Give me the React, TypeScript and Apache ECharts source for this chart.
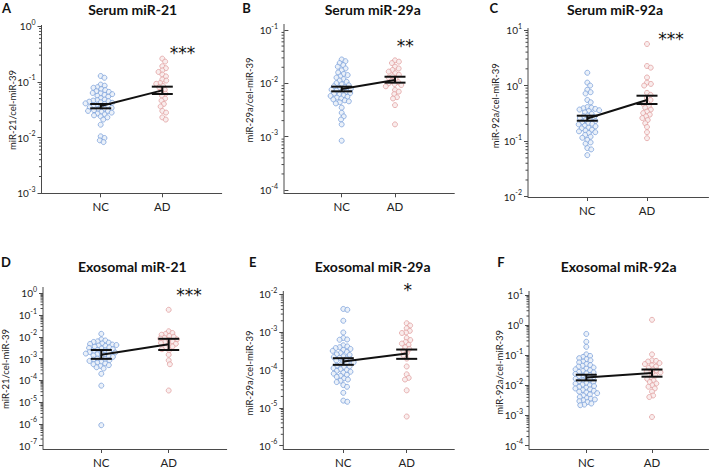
import React, { useEffect, useRef } from 'react';
import * as echarts from 'echarts';

// ---------------- data ----------------
const groups = ['NC', 'AD'];
const panelTitles = ['Serum miR-21', 'Serum miR-29a', 'Serum miR-92a', 'Exosomal miR-21', 'Exosomal miR-29a', 'Exosomal miR-92a'];
const panelLetters = ['A', 'B', 'C', 'D', 'E', 'F'];
const yAxisNames = ['miR-21/cel-miR-39', 'miR-29a/cel-miR-39', 'miR-92a/cel-miR-39', 'miR-21/cel-miR-39', 'miR-29a/cel-miR-39', 'miR-92a/cel-miR-39'];
const significance = ['***', '**', '***', '***', '*', ''];
const yMinExp = [-3, -4, -2, -7, -6, -4];
const yMaxExp = [0, -1, 1, 0, -2, 1];

const serumMiR21NC = [0.127, 0.118, 0.089, 0.085, 0.080, 0.078, 0.074, 0.071, 0.068, 0.066, 0.063, 0.062, 0.060, 0.058, 0.056, 0.054, 0.051, 0.048, 0.047, 0.046, 0.045, 0.044, 0.043, 0.042, 0.041, 0.040, 0.039, 0.038, 0.037, 0.036, 0.035, 0.034, 0.033, 0.032, 0.031, 0.030, 0.030, 0.029, 0.028, 0.027, 0.026, 0.025, 0.024, 0.023, 0.021, 0.017, 0.0105, 0.0098, 0.0089, 0.0083];
const serumMiR21AD = [0.26, 0.23, 0.19, 0.175, 0.16, 0.15, 0.135, 0.125, 0.11, 0.105, 0.095, 0.092, 0.084, 0.08, 0.072, 0.067, 0.061, 0.056, 0.05, 0.046, 0.04, 0.036, 0.03, 0.028, 0.023, 0.021];
const serumMiR21NCStats = [0.0334, 0.0368, 0.0399];
const serumMiR21ADStats = [0.0604, 0.070, 0.0817];

const serumMiR29aNC = [0.028, 0.026, 0.024, 0.022, 0.0205, 0.019, 0.0175, 0.016, 0.015, 0.0143, 0.0135, 0.0128, 0.012, 0.0113, 0.0107, 0.0101, 0.0096, 0.0092, 0.0088, 0.0085, 0.0082, 0.0079, 0.0076, 0.0073, 0.0071, 0.0069, 0.0066, 0.0064, 0.0062, 0.006, 0.0058, 0.0056, 0.0054, 0.0052, 0.005, 0.0048, 0.0046, 0.0044, 0.0042, 0.0035, 0.0028, 0.0024, 0.0021, 0.0017, 0.00084];
const serumMiR29aAD = [0.027, 0.0255, 0.024, 0.0205, 0.019, 0.0178, 0.0166, 0.0155, 0.0145, 0.0135, 0.0128, 0.012, 0.0112, 0.0105, 0.01, 0.0097, 0.0093, 0.0088, 0.0075, 0.007, 0.0063, 0.0055, 0.0052, 0.0039, 0.0017];
const serumMiR29aNCStats = [0.00708, 0.00782, 0.00866];
const serumMiR29aADStats = [0.0103, 0.0115, 0.0133];

const serumMiR92aNC = [1.7, 1.13, 1.0, 0.84, 0.76, 0.72, 0.55, 0.5, 0.41, 0.4, 0.39, 0.38, 0.37, 0.36, 0.35, 0.33, 0.31, 0.29, 0.28, 0.27, 0.26, 0.25, 0.24, 0.23, 0.22, 0.21, 0.205, 0.2, 0.19, 0.185, 0.175, 0.17, 0.16, 0.155, 0.15, 0.145, 0.14, 0.13, 0.12, 0.115, 0.105, 0.095, 0.09, 0.075, 0.071, 0.056];
const serumMiR92aAD = [5.6, 2.25, 2.1, 1.4, 1.13, 1.07, 1.0, 0.74, 0.68, 0.6, 0.55, 0.5, 0.47, 0.43, 0.4, 0.37, 0.34, 0.32, 0.3, 0.28, 0.26, 0.24, 0.21, 0.18, 0.145, 0.113];
const serumMiR92aNCStats = [0.233, 0.256, 0.287];
const serumMiR92aADStats = [0.466, 0.55, 0.657];

const exoMiR21NC = [0.0137, 0.0076, 0.0068, 0.0062, 0.0058, 0.0054, 0.005, 0.0047, 0.0044, 0.0042, 0.004, 0.0038, 0.0035, 0.0033, 0.0031, 0.0029, 0.0027, 0.0025, 0.0024, 0.0022, 0.0021, 0.002, 0.0019, 0.0018, 0.0017, 0.0016, 0.0015, 0.0014, 0.0013, 0.0012, 0.0011, 0.001, 0.00095, 0.0009, 0.00085, 0.00078, 0.0007, 0.00065, 0.0006, 0.00055, 0.0005, 0.00046, 0.0004, 0.00035, 0.0002, 0.000057, 0.00000087];
const exoMiR21AD = [0.175, 0.018, 0.015, 0.0135, 0.0125, 0.011, 0.01, 0.009, 0.0083, 0.0076, 0.007, 0.0063, 0.0058, 0.0053, 0.0048, 0.0042, 0.0036, 0.0031, 0.0027, 0.0024, 0.0015, 0.00083, 0.00055, 0.000034];
const exoMiR21NCStats = [0.00097, 0.0015, 0.00248];
const exoMiR21ADStats = [0.00248, 0.0045, 0.0081];

const exoMiR29aNC = [0.0041, 0.0039, 0.002, 0.00098, 0.0007, 0.00064, 0.00063, 0.00045, 0.00042, 0.0004, 0.00038, 0.00036, 0.00034, 0.00032, 0.0003, 0.00028, 0.00026, 0.00025, 0.00023, 0.00022, 0.00021, 0.0002, 0.00019, 0.00018, 0.00017, 0.00016, 0.00015, 0.00014, 0.00013, 0.000125, 0.00012, 0.000112, 0.000105, 0.0001, 0.000095, 0.00009, 0.000085, 0.00008, 0.000075, 0.00007, 0.000066, 0.00006, 0.000056, 0.000052, 0.000048, 0.00004, 0.000036, 0.000025, 0.0000155, 0.0000145];
const exoMiR29aAD = [0.00172, 0.0015, 0.00127, 0.00108, 0.00098, 0.00095, 0.0007, 0.00062, 0.00055, 0.0005, 0.00046, 0.0004, 0.00036, 0.00032, 0.00028, 0.00024, 0.0002, 0.000124, 0.000077, 0.000062, 0.000056, 0.000029, 0.0000059];
const exoMiR29aNCStats = [0.000137, 0.000168, 0.000205];
const exoMiR29aADStats = [0.000197, 0.000272, 0.000347];

const exoMiR92aNC = [0.51, 0.28, 0.19, 0.107, 0.095, 0.088, 0.08, 0.074, 0.068, 0.062, 0.058, 0.051, 0.047, 0.045, 0.042, 0.039, 0.036, 0.034, 0.032, 0.030, 0.028, 0.027, 0.025, 0.024, 0.022, 0.021, 0.02, 0.0186, 0.0175, 0.0165, 0.0155, 0.0146, 0.0135, 0.0129, 0.012, 0.0114, 0.0107, 0.0101, 0.0095, 0.0089, 0.0084, 0.0079, 0.0074, 0.007, 0.0066, 0.0062, 0.0058, 0.0055, 0.005, 0.0046, 0.0041, 0.0038, 0.0036, 0.0034, 0.0032, 0.003, 0.0028, 0.0025, 0.0023, 0.0022];
const exoMiR92aAD = [1.5, 0.107, 0.068, 0.065, 0.062, 0.055, 0.051, 0.046, 0.042, 0.038, 0.034, 0.031, 0.029, 0.027, 0.025, 0.0211, 0.0185, 0.0165, 0.0145, 0.0129, 0.0115, 0.0101, 0.009, 0.0079, 0.0062, 0.0046, 0.0041, 0.00089];
const exoMiR92aNCStats = [0.01466, 0.0182, 0.0225];
const exoMiR92aADStats = [0.0194, 0.0259, 0.0336];

const panelData = [
  { nc: serumMiR21NC, ad: serumMiR21AD, ncStats: serumMiR21NCStats, adStats: serumMiR21ADStats },
  { nc: serumMiR29aNC, ad: serumMiR29aAD, ncStats: serumMiR29aNCStats, adStats: serumMiR29aADStats },
  { nc: serumMiR92aNC, ad: serumMiR92aAD, ncStats: serumMiR92aNCStats, adStats: serumMiR92aADStats },
  { nc: exoMiR21NC, ad: exoMiR21AD, ncStats: exoMiR21NCStats, adStats: exoMiR21ADStats },
  { nc: exoMiR29aNC, ad: exoMiR29aAD, ncStats: exoMiR29aNCStats, adStats: exoMiR29aADStats },
  { nc: exoMiR92aNC, ad: exoMiR92aAD, ncStats: exoMiR92aNCStats, adStats: exoMiR92aADStats },
];

// ---------------- layout (pixels) ----------------
const GEO = [
  { axisX: 41.5, rightX: 221.7, topY: 26, botY: 193.3, xAxisY: 193.3, ncX: 100.7, adX: 162.3, lineTop: 25, title: [132.7, 9], letter: [6.5, 8], yName: [12, 110], stars: [182.5, 50] },
  { axisX: 284, rightX: 454.3, topY: 30, botY: 190, xAxisY: 193.3, ncX: 341.7, adX: 395, lineTop: 24, title: [372.7, 9], letter: [246.5, 8], yName: [249.3, 100], stars: [405.2, 43.3] },
  { axisX: 528, rightX: 708.5, topY: 30, botY: 196.7, xAxisY: 197, ncX: 587.3, adX: 647, lineTop: 28, title: [615, 9.5], letter: [493.7, 8], yName: [495.3, 105.7], stars: [671, 36.3] },
  { axisX: 43, rightX: 226.7, topY: 293.3, botY: 447.3, xAxisY: 450.7, ncX: 101.3, adX: 168.7, lineTop: 287, title: [132.3, 266.3], letter: [6, 262], yName: [5.5, 369], stars: [189, 292.3] },
  { axisX: 283.3, rightX: 454.3, topY: 294.3, botY: 446, xAxisY: 449.3, ncX: 343.3, adX: 406.7, lineTop: 291, title: [372.7, 266], letter: [252.7, 262], yName: [249.3, 373], stars: [407.7, 287.3] },
  { axisX: 529, rightX: 708.5, topY: 295, botY: 447.3, xAxisY: 450.7, ncX: 586.3, adX: 652, lineTop: 291, title: [618.7, 266], letter: [501, 262], yName: [499.3, 372.3], stars: [0, 0] },
];

const FONT = 'Lato, "Open Sans", "DejaVu Sans", sans-serif';
const AXIS_COLOR = '#4a4a4a';
const TEXT_COLOR = '#222222';
const NC_STYLE = { color: '#e6edf8', borderColor: '#7fa4dc', borderWidth: 1 };
const AD_STYLE = { color: '#f8e8e8', borderColor: '#e2a3a3', borderWidth: 1 };
const DOT = 5;
const PACK = 4.1; // centre spacing used by the swarm layout (dots overlap slightly)

// deterministic beeswarm layout (pixel space -> x data offset)
function swarm(values: number[], center: number, i: number): [number, number][] {
  const g = GEO[i];
  const pxPerDecade = (g.botY - g.topY) / (yMaxExp[i] - yMinExp[i]);
  const ppu = g.adX - g.ncX;
  const d = PACK;
  const placed: { x: number; y: number }[] = [];
  const order = values.map((_, k) => k).sort((a, b) => values[b] - values[a]);
  const out: [number, number][] = new Array(values.length);
  for (const k of order) {
    const y = -Math.log10(values[k]) * pxPerDecade;
    const intervals: [number, number][] = [];
    for (const p of placed) {
      const dy = Math.abs(p.y - y);
      if (dy < d) {
        const dx = Math.sqrt(d * d - dy * dy);
        intervals.push([p.x - dx, p.x + dx]);
      }
    }
    const candidates = [0];
    intervals.forEach(([a, b]) => candidates.push(a, b));
    candidates.sort((a, b) => Math.abs(a) - Math.abs(b) || b - a);
    let x = 0;
    for (const c of candidates) {
      if (intervals.every(([a, b]) => c <= a + 1e-6 || c >= b - 1e-6)) {
        x = c;
        break;
      }
    }
    placed.push({ x, y });
    out[k] = [center + x / ppu, values[k]];
  }
  return out;
}

function buildOption() {
  const grid: any[] = [];
  const xAxis: any[] = [];
  const yAxis: any[] = [];
  const series: any[] = [];
  const elements: any[] = [];

  GEO.forEach((g, i) => {
    const ppu = g.adX - g.ncX;
    const xMin = 1 - (g.ncX - g.axisX) / ppu;
    const xMax = xMin + (g.rightX - g.axisX) / ppu;
    grid.push({ left: g.axisX, top: g.topY, width: g.rightX - g.axisX, height: g.botY - g.topY, containLabel: false });
    xAxis.push({
      type: 'value', gridIndex: i, min: xMin, max: xMax, offset: g.xAxisY - g.botY,
      splitLine: { show: false },
      axisLine: { show: true, onZero: false, lineStyle: { color: AXIS_COLOR, width: 1 } },
      axisTick: { show: true, customValues: [1, 2], length: 4, lineStyle: { color: AXIS_COLOR } },
      axisLabel: {
        customValues: [1, 2], margin: 7, fontSize: 11.5, color: TEXT_COLOR, fontFamily: FONT,
        formatter: (v: number) => groups[Math.round(v) - 1] ?? '',
      },
    });
    yAxis.push({
      type: 'log', logBase: 10, gridIndex: i, min: Math.pow(10, yMinExp[i]), max: Math.pow(10, yMaxExp[i]),
      splitLine: { show: false },
      axisLine: { show: false },
      axisTick: { show: true, length: 4, lineStyle: { color: AXIS_COLOR } },
      axisLabel: {
        margin: 6,
        formatter: (v: number) => `{b|10}{s|${Math.round(Math.log10(v))}}`,
        rich: {
          b: { fontSize: 10, fontFamily: FONT, color: TEXT_COLOR, lineHeight: 16 },
          s: { fontSize: 7, fontFamily: FONT, color: TEXT_COLOR, verticalAlign: 'top' },
        },
      },
    });

    const pd = panelData[i];
    series.push({
      type: 'scatter', xAxisIndex: i, yAxisIndex: i, symbol: 'circle', symbolSize: DOT,
      itemStyle: NC_STYLE, data: swarm(pd.nc, 1, i), silent: true,
    });
    series.push({
      type: 'scatter', xAxisIndex: i, yAxisIndex: i, symbol: 'circle', symbolSize: DOT,
      itemStyle: AD_STYLE, data: swarm(pd.ad, 2, i), silent: true,
    });
    // error bars (SEM)
    series.push({
      type: 'custom', xAxisIndex: i, yAxisIndex: i, silent: true, clip: false, z: 3,
      encode: { x: 0, y: [1, 2, 3] },
      data: [[1, ...pd.ncStats], [2, ...pd.adStats]],
      renderItem: (_params: any, api: any) => {
        const x = api.value(0);
        const lo = api.coord([x, api.value(1)]);
        const hi = api.coord([x, api.value(3)]);
        const hw = 10.5;
        const st = { stroke: '#111111', lineWidth: 2 };
        return {
          type: 'group',
          children: [
            { type: 'line', shape: { x1: lo[0], y1: lo[1], x2: hi[0], y2: hi[1] }, style: st },
            { type: 'line', shape: { x1: lo[0] - hw, y1: lo[1], x2: lo[0] + hw, y2: lo[1] }, style: st },
            { type: 'line', shape: { x1: hi[0] - hw, y1: hi[1], x2: hi[0] + hw, y2: hi[1] }, style: st },
          ],
        };
      },
    });
    // line joining means
    series.push({
      type: 'line', xAxisIndex: i, yAxisIndex: i, symbol: 'none', silent: true, z: 3,
      lineStyle: { color: '#111111', width: 2 },
      data: [[1, pd.ncStats[1]], [2, pd.adStats[1]]],
    });
    // y axis line + log minor ticks
    const minor: [number, number][] = [];
    for (let e = yMinExp[i]; e < yMaxExp[i]; e++) {
      for (let k = 2; k <= 9; k++) minor.push([xMin, k * Math.pow(10, e)]);
    }
    const ext = g.topY - g.lineTop;
    const below = g.xAxisY - g.botY;
    series.push({
      type: 'custom', xAxisIndex: i, yAxisIndex: i, silent: true, clip: false, z: 4,
      data: minor,
      renderItem: (params: any, api: any) => {
        const cs = params.coordSys;
        const p = api.coord([api.value(0), api.value(1)]);
        const children: any[] = [
          { type: 'line', shape: { x1: cs.x - 2.5, y1: p[1], x2: cs.x, y2: p[1] }, style: { stroke: AXIS_COLOR, lineWidth: 1 } },
        ];
        if (params.dataIndex === 0) {
          children.push({ type: 'line', shape: { x1: cs.x, y1: cs.y - ext, x2: cs.x, y2: cs.y + cs.height + below }, style: { stroke: AXIS_COLOR, lineWidth: 1 } });
        }
        return { type: 'group', children };
      },
    });

    elements.push({
      type: 'text', x: g.title[0], y: g.title[1],
      style: { text: panelTitles[i], fontSize: 14, fontWeight: 'bold', fontFamily: FONT, fill: '#111111', align: 'center', verticalAlign: 'middle' },
    });
    elements.push({
      type: 'text', x: g.letter[0], y: g.letter[1],
      style: { text: panelLetters[i], fontSize: 13, fontWeight: 'bold', fontFamily: FONT, fill: '#111111', align: 'center', verticalAlign: 'middle' },
    });
    elements.push({
      type: 'text', x: g.yName[0], y: g.yName[1], rotation: Math.PI / 2,
      style: { text: yAxisNames[i], fontSize: 9.5, fontFamily: FONT, fill: TEXT_COLOR, align: 'center', verticalAlign: 'middle' },
    });
    if (significance[i]) {
      elements.push({
        type: 'text', x: g.stars[0], y: g.stars[1] + 3,
        style: { text: significance[i], fontSize: 17, fontFamily: '"DejaVu Sans", sans-serif', fill: '#111111', align: 'center', verticalAlign: 'middle' },
      });
    }
  });

  return {
    animation: false,
    backgroundColor: '#ffffff',
    grid, xAxis, yAxis, series,
    graphic: { elements },
  };
}

export default function App() {
  const ref = useRef<HTMLDivElement>(null);
  useEffect(() => {
    if (!ref.current) return;
    const chart = echarts.init(ref.current, undefined, { renderer: 'svg' });
    chart.setOption(buildOption() as any);
    return () => chart.dispose();
  }, []);
  return <div ref={ref} style={{ position: 'absolute', left: 0, top: 0, width: 709, height: 468 }} />;
}
